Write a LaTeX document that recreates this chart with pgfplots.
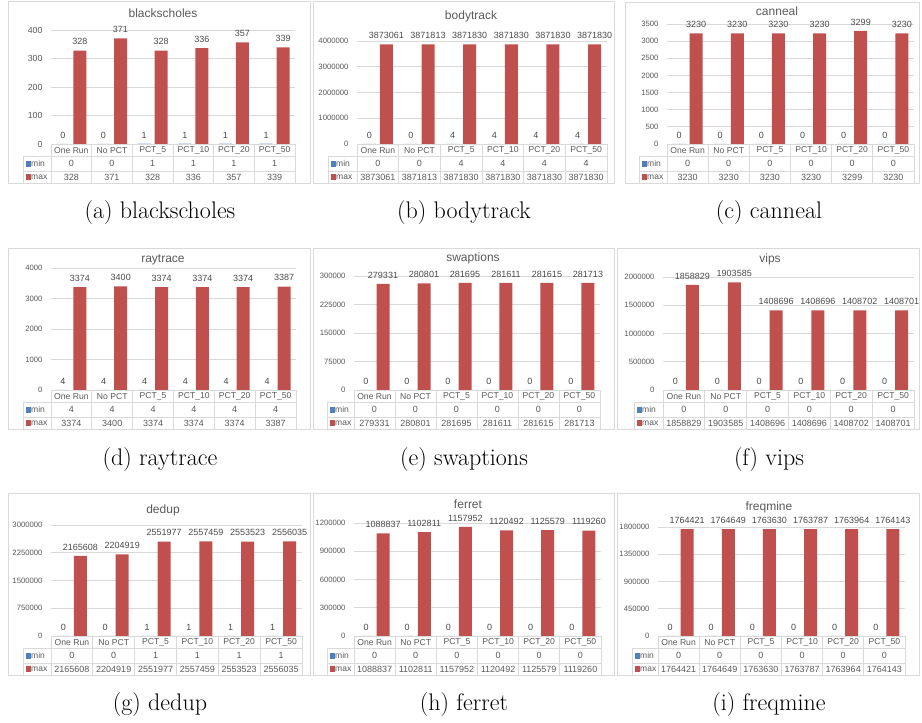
\documentclass[border=0pt]{standalone}
\usepackage{pgfplots}
\pgfplotsset{compat=1.18}
\usepackage{pgfplotstable}
\usepackage{fontspec}
\newfontfamily\chartfont{Liberation Sans}
\definecolor{minc}{HTML}{4F81BD}
\definecolor{maxc}{HTML}{C0504D}
\definecolor{txtc}{HTML}{595959}
\definecolor{lblc}{HTML}{4A4A4A}
\definecolor{gridc}{HTML}{D9D9D9}
\definecolor{boxc}{HTML}{D9D9D9}

\pgfplotstableread{
x min max
0 0 328
1 0 371
2 1 328
3 1 336
4 1 357
5 1 339
}\tblA
\pgfplotstableread{
x min max
0 0 3873061
1 0 3871813
2 4 3871830
3 4 3871830
4 4 3871830
5 4 3871830
}\tblB
\pgfplotstableread{
x min max
0 0 3230
1 0 3230
2 0 3230
3 0 3230
4 0 3299
5 0 3230
}\tblC
\pgfplotstableread{
x min max
0 4 3374
1 4 3400
2 4 3374
3 4 3374
4 4 3374
5 4 3387
}\tblD
\pgfplotstableread{
x min max
0 0 279331
1 0 280801
2 0 281695
3 0 281611
4 0 281615
5 0 281713
}\tblE
\pgfplotstableread{
x min max
0 0 1858829
1 0 1903585
2 0 1408696
3 0 1408696
4 0 1408702
5 0 1408701
}\tblF
\pgfplotstableread{
x min max
0 0 2165608
1 0 2204919
2 1 2551977
3 1 2557459
4 1 2553523
5 1 2556035
}\tblG
\pgfplotstableread{
x min max
0 0 1088837
1 0 1102811
2 0 1157952
3 0 1120492
4 0 1125579
5 0 1119260
}\tblH
\pgfplotstableread{
x min max
0 0 1764421
1 0 1764649
2 0 1763630
3 0 1763787
4 0 1763964
5 0 1764143
}\tblI

\newcommand\lblfont{\chartfont\fontsize{9}{10}\selectfont}
\newcommand\drawpanel[1]{%
 \pgfmathsetmacro\W{\AR-\AL}%
 \pgfmathsetmacro\H{\AB-\AT}%
 \pgfmathsetmacro\yAB{723-\AB}%
 \pgfmathsetmacro\yR{723-\AB-12.5}%
 \pgfmathsetmacro\yS{723-\AB-27}%
 \pgfmathsetmacro\yBB{723-\AB-39.5}%
 \pgfmathsetmacro\yBT{723-\BT}%
 \pgfmathsetmacro\yTY{723-\TY}%
 \pgfmathsetmacro\yMin{723-\AB-19.75}%
 \pgfmathsetmacro\yMax{723-\AB-33.25}%
 \pgfmathsetmacro\xLeg{\LL+2.5}%
 \draw[boxc, line width=1pt] (\BL pt,\yBB pt) rectangle (\BR pt,\yBT pt);
 \begin{axis}[at={(\AL pt,\yAB pt)}, anchor=south west,
   width=\W pt, height=\H pt, scale only axis,
   xmin=-0.5, xmax=5.5, ymin=0, ymax=\YMAX, enlargelimits=false,
   clip=false, axis line style={draw=none}, major tick length=0pt,
   ymajorgrids, grid style={gridc, line width=0.8pt},
   scaled y ticks=false,
   ytick/.expanded={\YT},
   yticklabel={\pgfmathprintnumber[fixed,precision=0,1000 sep={},assume math mode=true]{\tick}},
   yticklabel style={font=\chartfont\fontsize{\TICKFS}{9}\selectfont, text=txtc, xshift=-5pt},
   xtick={0,1,2,3,4,5},
   xticklabels={One Run,No PCT,PCT\_5,PCT\_10,PCT\_20,PCT\_50},
   xticklabel style={anchor=center, yshift=-6.25pt, inner sep=0pt, font=\chartfont\fontsize{8.6}{10}\selectfont, text=txtc},
 ]
 \addplot[ybar, bar width=13pt, bar shift=-8.5pt, fill=minc!80, draw=none,
   nodes near coords, point meta=explicit symbolic,
   every node near coord/.append style={font=\lblfont, text=lblc, inner sep=1pt, yshift=4.5pt, xshift=-8.5pt}]
   table[x=x, y=min, meta=min] {#1};
 \addplot[ybar, bar width=13pt, bar shift=8.5pt, fill=maxc, draw=none,
   nodes near coords, point meta=explicit symbolic,
   every node near coord/.append style={font=\lblfont, text=lblc, inner sep=1pt, yshift=4.5pt, xshift=8.5pt}]
   table[x=x, y=max, meta=max] {#1};
 \addplot[draw=none, mark=none, nodes near coords, point meta=explicit symbolic,
   nodes near coords align={center},
   every node near coord/.append style={font=\lblfont, text=txtc, inner sep=0pt, anchor=center, yshift=-19.75pt}]
   table[x=x, y expr=0, meta=min] {#1};
 \addplot[draw=none, mark=none, nodes near coords, point meta=explicit symbolic,
   nodes near coords align={center},
   every node near coord/.append style={font=\lblfont, text=txtc, inner sep=0pt, anchor=center, yshift=-33.25pt}]
   table[x=x, y expr=0, meta=max] {#1};
 \end{axis}
 \foreach \k in {0,...,6}{\pgfmathsetmacro\xx{\AL+\k*\W/6}\draw[gridc, line width=0.8pt] (\xx pt,\yAB pt) -- (\xx pt,\yBB pt);}
 \draw[gridc, line width=0.8pt] (\AL pt,\yAB pt) -- (\AR pt,\yAB pt);
 \draw[gridc, line width=0.8pt] (\LL pt,\yR pt) -- (\AR pt,\yR pt);
 \draw[gridc, line width=0.8pt] (\LL pt,\yS pt) -- (\AR pt,\yS pt);
 \draw[gridc, line width=0.8pt] (\LL pt,\yBB pt) -- (\AR pt,\yBB pt);
 \draw[gridc, line width=0.8pt] (\LL pt,\yR pt) -- (\LL pt,\yBB pt);
 \node[anchor=west, inner sep=0pt, font=\chartfont\fontsize{8.5}{10}\selectfont, text=txtc] at (\xLeg pt,\yMin pt) {\textcolor{minc}{\rule[-0.3pt]{5.5pt}{5.5pt}}min};
 \node[anchor=west, inner sep=0pt, font=\chartfont\fontsize{8.5}{10}\selectfont, text=txtc] at (\xLeg pt,\yMax pt) {\textcolor{maxc}{\rule[-0.3pt]{5.5pt}{5.5pt}}max};
 \node[font=\chartfont\fontsize{12}{14}\selectfont, text=txtc] at (\TX pt,\yTY pt) {\TITLE};
}

\begin{document}
\begin{tikzpicture}
\useasboundingbox (0pt,0pt) rectangle (922pt,723pt);
% row 1
\def\TICKFS{8.8}
\def\BL{8}\def\BR{310}\def\BT{2}\def\AL{51}\def\AR{295}\def\AT{30}\def\AB{144}\def\LL{23}\def\TX{163}\def\TY{13}
\def\YMAX{400}\def\YT{0,100,200,300,400}\def\TITLE{blackscholes}
\drawpanel{\tblA}
\def\TICKFS{7.7}
\def\BL{313}\def\BR{614}\def\BT{2}\def\AL{357}\def\AR{607}\def\AT{41}\def\AB{144}\def\LL{328}\def\TX{471}\def\TY{16}
\def\YMAX{4000000}\def\YT{0,1000000,2000000,3000000,4000000}\def\TITLE{bodytrack}
\drawpanel{\tblB}
\def\BL{625}\def\BR{919}\def\BT{3}\def\AL{667}\def\AR{914}\def\AT{24}\def\AB{144}\def\LL{639}\def\TX{777}\def\TY{11}
\def\YMAX{3500}\def\YT{0,500,1000,1500,2000,2500,3000,3500}\def\TITLE{canneal}
\drawpanel{\tblC}
% row 2
\def\BL{8}\def\BR{310}\def\BT{249}\def\AL{51}\def\AR{296}\def\AT{268}\def\AB{390}\def\LL{23}\def\TX{163}\def\TY{260}
\def\YMAX{4000}\def\YT{0,1000,2000,3000,4000}\def\TITLE{raytrace}
\drawpanel{\tblD}
\def\BL{313}\def\BR{614}\def\BT{249}\def\AL{354}\def\AR{600}\def\AT{276}\def\AB{390}\def\LL{327}\def\TX{473}\def\TY{258}
\def\YMAX{300000}\def\YT{0,75000,150000,225000,300000}\def\TITLE{swaptions}
\drawpanel{\tblE}
\def\BL{617}\def\BR{919}\def\BT{249}\def\AL{663}\def\AR{914}\def\AT{277}\def\AB{390}\def\LL{634}\def\TX{770}\def\TY{259}
\def\YMAX{2000000}\def\YT{0,500000,1000000,1500000,2000000}\def\TITLE{vips}
\drawpanel{\tblF}
% row 3
\def\BL{8}\def\BR{310}\def\BT{494}\def\AL{51}\def\AR{302}\def\AT{525}\def\AB{636}\def\LL{23}\def\TX{163}\def\TY{510}
\def\YMAX{3000000}\def\YT{0,750000,1500000,2250000,3000000}\def\TITLE{dedup}
\drawpanel{\tblG}
\def\BL{313}\def\BR{614}\def\BT{494}\def\AL{354}\def\AR{601}\def\AT{523}\def\AB{636}\def\LL{327}\def\TX{468}\def\TY{504}
\def\YMAX{1200000}\def\YT{0,300000,600000,900000,1200000}\def\TITLE{ferret}
\drawpanel{\tblH}
\def\BL{617}\def\BR{919}\def\BT{494}\def\AL{658}\def\AR{905}\def\AT{527}\def\AB{636}\def\LL{632}\def\TX{769}\def\TY{507}
\def\YMAX{1800000}\def\YT{0,450000,900000,1350000,1800000}\def\TITLE{freqmine}
\drawpanel{\tblI}
% captions
\foreach \cx/\cy/\ct in {160/213/(a) blackscholes, 464/213/(b) bodytrack, 769/213/(c) canneal,
  160/460/(d) raytrace, 464/460/(e) swaptions, 769/460/(f) vips,
  160/705/(g) dedup, 464/705/(h) ferret, 769/705/(i) freqmine}{
  \pgfmathsetmacro\cyy{723-\cy}
  \node[font=\fontsize{24}{28}\selectfont] at (\cx pt,\cyy pt) {\ct};
}
\end{tikzpicture}
\end{document}
